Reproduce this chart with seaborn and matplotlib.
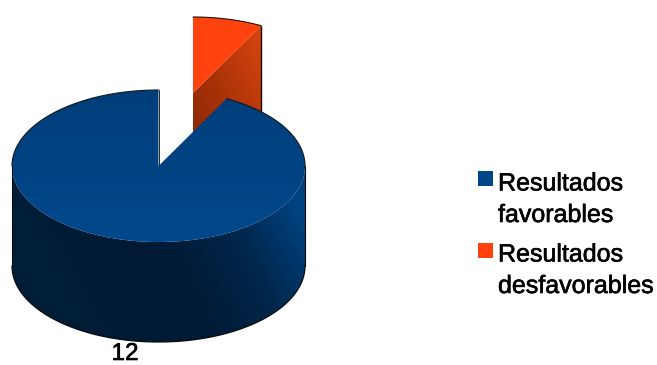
import numpy as np
import matplotlib
matplotlib.use("Agg")
import matplotlib.pyplot as plt
import matplotlib.patheffects as pe
from matplotlib.colors import LinearSegmentedColormap
from matplotlib.patches import Polygon, Rectangle
import seaborn as sns

# Survey outcome counts
categories = ["Resultados\nfavorables", "Resultados\ndesfavorables"]
values = [12, 1]
value_labels = ["12"]
colors = ["#004586", "#ff420e"]

sns.set_theme(style="white")
plt.rcParams["font.family"] = ["Liberation Sans", "DejaVu Sans"]

fig, ax = plt.subplots(figsize=(6.57, 3.65), dpi=100)
ax.set_position([0, 0, 1, 1])
ax.set_xlim(0, 657)
ax.set_ylim(365, 0)
ax.axis("off")

# Pie geometry, in axis units
cx, cy = 158.5, 166.0
rx, ry = 146.5, 76.0
depth = 100.0
dx, dy = 34.5, -73.0
frac = values[1] / sum(values)
cut = 2 * np.pi * frac

# Slightly heavier glyphs for all text
heavy = [pe.withStroke(linewidth=0.45, foreground="black")]


def rim(theta, ox=0.0, oy=0.0):
    """Point on the elliptical rim, angle clockwise from twelve o'clock."""
    return np.column_stack([cx + ox + rx * np.sin(theta), cy + oy - ry * np.cos(theta)])


def gradient(poly, stops, extent, angle, zorder):
    """Fill a polygon with a linear colour ramp running along the given direction."""
    cmap = LinearSegmentedColormap.from_list("ramp", stops)
    xs, ys = np.meshgrid(np.linspace(0, 1, 300), np.linspace(0, 1, 300))
    ramp = xs * np.cos(angle) + ys * np.sin(angle)
    im = ax.imshow(ramp, cmap=cmap, extent=extent, origin="upper", aspect="auto",
                   interpolation="bilinear", zorder=zorder)
    im.set_clip_path(Polygon(poly, closed=True, transform=ax.transData))
    ax.set_xlim(0, 657)
    ax.set_ylim(365, 0)


# Pulled-out slice: inner wall first, then its top face
t_red = np.linspace(0, cut, 40)
apex = np.array([[cx + dx, cy + dy]])
red_rim = rim(t_red, dx, dy)
wall = np.vstack([apex, red_rim[-1:], red_rim[-1:] + [0, depth], apex + [0, depth]])
gradient(wall, ["#7a2404", "#a83208", "#dc4510"],
         [cx + dx, red_rim[-1, 0], cy + dy + depth, red_rim[-1, 1]], -0.9, 1)
ax.add_patch(Polygon(np.vstack([apex, red_rim]), closed=True, fc=colors[1], ec="none", zorder=2))
ax.plot(red_rim[:, 0], red_rim[:, 1], color="#221008", lw=0.8, zorder=3)
ax.plot([red_rim[-1, 0]] * 2, [red_rim[-1, 1], red_rim[-1, 1] + depth],
        color="#120805", lw=1.0, zorder=1.5)

# Large slice: outer wall, darkest left of centre and lifting towards the right shoulder
t_front = np.linspace(np.pi / 2, 3 * np.pi / 2, 200)
front = rim(t_front)
side = np.vstack([front, front[::-1] + [0, depth]])
side_cmap = LinearSegmentedColormap.from_list(
    "side", ["#001d38", "#001a33", "#001c38", "#00284e", "#00427f"])
xs, ys = np.meshgrid(np.linspace(0, 1, 400), np.linspace(0, 1, 200))
shade = np.clip(1.05 * xs - 0.32 * ys + 0.05, 0, 1)
im = ax.imshow(shade, cmap=side_cmap, extent=[cx - rx, cx + rx, cy + ry + depth, cy],
               origin="upper", aspect="auto", interpolation="bilinear", zorder=4)
im.set_clip_path(Polygon(side, closed=True, transform=ax.transData))

# Large slice: top face
t_blue = np.linspace(cut, 2 * np.pi, 400)
center = np.array([[cx, cy]])
top = np.vstack([center, rim(t_blue)])
gradient(top, ["#003e7a", "#00488c"], [cx - rx, cx + rx, cy + ry, cy - ry], np.pi / 2, 5)
ax.set_xlim(0, 657)
ax.set_ylim(365, 0)

# Dark outline around the silhouette of the large slice
ax.plot(*rim(np.linspace(cut, np.pi / 2, 100)).T, color="#10161c", lw=0.8, zorder=6)
ax.plot(*rim(np.linspace(3 * np.pi / 2, 2 * np.pi, 100)).T, color="#10161c", lw=0.8, zorder=6)
ax.plot(*(front + [0, depth]).T, color="#0a0a0a", lw=0.9, zorder=6)
for x_edge in (cx - rx, cx + rx):
    ax.plot([x_edge, x_edge], [cy, cy + depth], color="#0a0a0a", lw=0.8, zorder=6)
ax.plot([cx, cx], [cy - ry, cy], color="#1c2630", lw=0.7, zorder=6)

# Value label under the pie
ax.text(125, 354, value_labels[0], fontsize=17.5, color="black", ha="center", va="center",
        zorder=7, path_effects=heavy)

# Key on the right
key_rows = [(171, 183.5), (243, 254.5)]
for (square_y, text_y), name, color in zip(key_rows, categories, colors):
    ax.add_patch(Rectangle((478, square_y), 15, 15, fc=color, ec="none", zorder=7))
    first, second = name.split("\n")
    ax.text(498, text_y, first, fontsize=18, color="black", ha="left", va="center",
            zorder=7, path_effects=heavy)
    ax.text(498, text_y + 31.5, second, fontsize=18, color="black", ha="left", va="center",
            zorder=7, path_effects=heavy)

fig.savefig("out.png", dpi=100, facecolor="white")
